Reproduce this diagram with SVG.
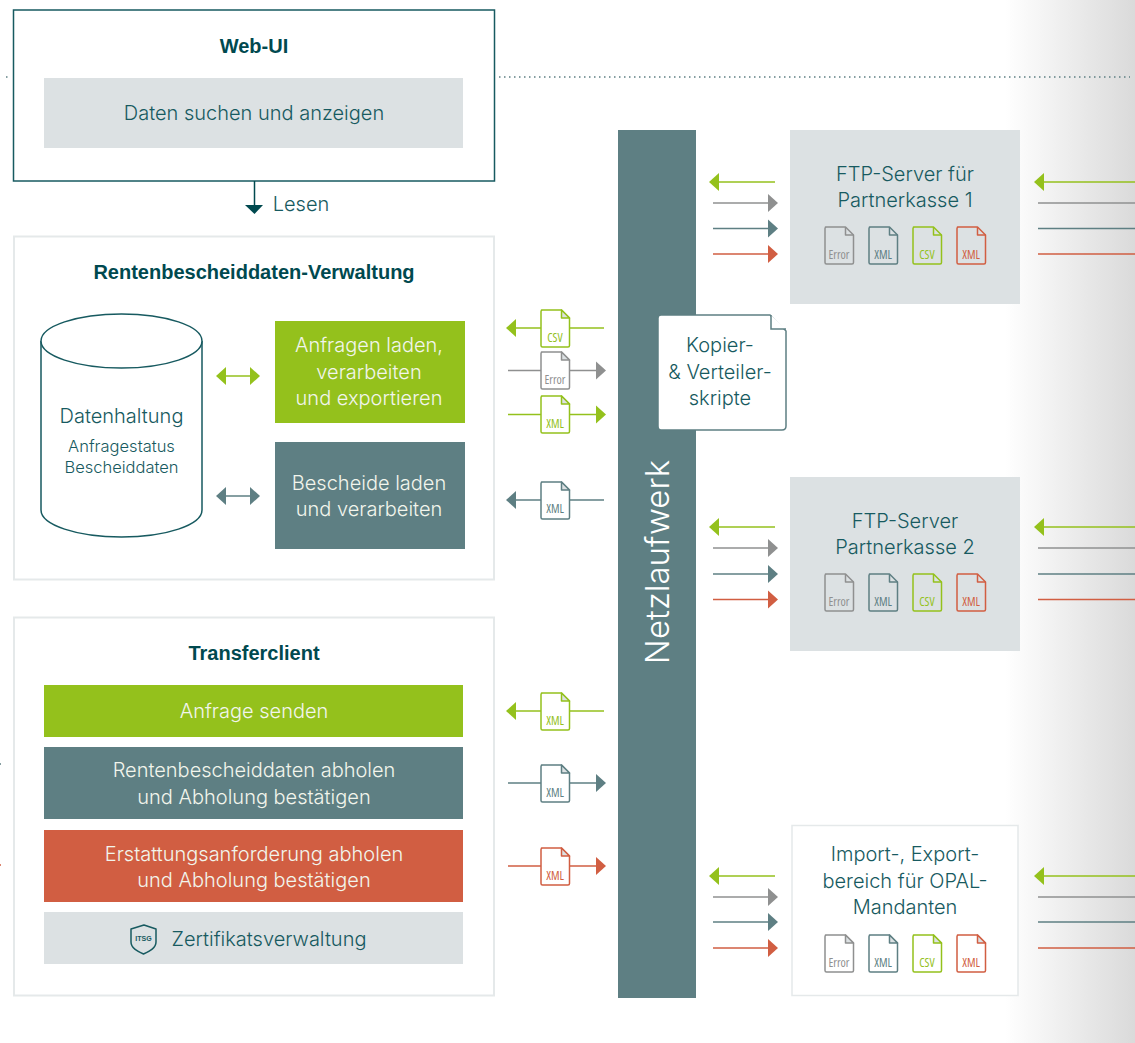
<svg xmlns="http://www.w3.org/2000/svg" xmlns:xlink="http://www.w3.org/1999/xlink" width="1135" height="1043" viewBox="0 0 1135 1043">
<style>
text{font-family:"Inter","Liberation Sans",sans-serif;font-weight:300;text-anchor:middle}
.t{font-size:20px;fill:#175a60}
.h{font-size:20px;font-weight:700;fill:#00494f;font-family:"Liberation Sans",sans-serif}
.w{font-size:20px;fill:#f2f5ec}
.d{font-size:12px;font-family:"Open Sans","Liberation Sans",sans-serif;font-stretch:condensed;font-weight:400}
.g{stroke:#94c11c;fill:#94c11c;color:#94c11c}
.e{stroke:#8f9090;fill:#8f9090;color:#8f9090}
.s{stroke:#5e7f83;fill:#5e7f83;color:#5e7f83}
.r{stroke:#d15e42;fill:#d15e42;color:#d15e42}
text.g,text.e,text.s,text.r{stroke:none}
.ln{stroke-width:1.5;fill:none}
.ah{stroke:none}
.docb{fill:#fff;stroke:currentColor;stroke-width:1.5;stroke-linejoin:round}
.docn{fill:none;stroke:currentColor;stroke-width:1.5;stroke-linejoin:round}
.grey{fill:#dce1e3}
.box{fill:#fff;stroke:#e5e9ea;stroke-width:2}
</style>
<defs>
<linearGradient id="fade" x1="0" x2="1" y1="0" y2="0"><stop offset="0" stop-color="#fff"/><stop offset="1" stop-color="#dadada"/></linearGradient>
<g id="doc"><path class="docb" d="M1.5 1H21.5L29.5 9V36.5Q29.5 38 28 38H2.5Q1 38 1 36.5V2.5Q1 1 2.5 1Z"/><path class="docb" style="fill:#dce1e3" d="M21.5 1V9H29.5Z"/></g>
<g id="docg"><path class="docb" style="fill:none" d="M1.5 1H21.5L29.5 9V36.5Q29.5 38 28 38H2.5Q1 38 1 36.5V2.5Q1 1 2.5 1Z"/><path class="docn" d="M21.5 1V9H29.5"/></g>
<polygon id="al" class="ah" points="0,0 10,-9 10,9"/>
<polygon id="ar" class="ah" points="0,0 -10,-9 -10,9"/>
</defs>
<rect width="1135" height="1043" fill="#fff"/>
<rect id="fade-band" x="1005" y="0" width="130" height="1043" fill="url(#fade)"/>
<g id="background-marks">
<line x1="6" y1="77" x2="9" y2="77" stroke="#5e7f83" stroke-width="1.5" stroke-dasharray="1.5 3.5"/>
<line x1="499" y1="77" x2="1130" y2="77" stroke="#5e7f83" stroke-width="1.5" stroke-dasharray="1.5 3.5"/>
<line x1="0" y1="764" x2="1" y2="764" stroke="#5e7f83" stroke-width="1.5"/>
<line x1="0" y1="865" x2="1" y2="865" stroke="#d15e42" stroke-width="1.5"/>
</g>

<g id="web-ui">
<rect x="13.5" y="10" width="481" height="171" fill="#fff" stroke="#175a60" stroke-width="1.5"/>
<text class="h" x="254" y="53">Web-UI</text>
<rect class="grey" x="44" y="78" width="419" height="70"/>
<text class="t" x="254" y="120">Daten suchen und anzeigen</text>
</g>

<g id="verwaltung">
<rect class="box" x="14" y="236.500" width="480" height="343"/>
<text class="h" x="254" y="279">Rentenbescheiddaten-Verwaltung</text>
</g>
<g id="datenhaltung">
<path d="M41 341V510C41 525 77 537 121.500 537S202 525 202 510V341" fill="#fff" stroke="#175a60" stroke-width="1.5"/>
<ellipse cx="121.500" cy="341" rx="80.500" ry="27" fill="#fff" stroke="#175a60" stroke-width="1.500"/>
<text class="t" x="121.500" y="423">Datenhaltung</text>
<text class="t" style="font-size:16.500px" x="121.500" y="452">Anfragestatus</text>
<text class="t" style="font-size:16.500px" x="121.500" y="473">Bescheiddaten</text>
</g>
<g id="anfragen-laden">
<rect x="275" y="321" width="190" height="102" fill="#94c11c"/>
<text class="w" x="369" y="352">Anfragen laden,</text>
<text class="w" x="369" y="379">verarbeiten</text>
<text class="w" x="369" y="405">und exportieren</text>
</g>
<g id="bescheide-laden">
<rect x="275" y="442" width="190" height="107" fill="#5e7f83"/>
<text class="w" x="369" y="490">Bescheide laden</text>
<text class="w" x="369" y="516">und verarbeiten</text>
</g>

<g id="transferclient">
<rect class="box" x="14" y="617.500" width="480" height="378"/>
<text class="h" x="254" y="660">Transferclient</text>
</g>
<g id="anfrage-senden">
<rect x="44" y="685" width="419" height="52" fill="#94c11c"/>
<text class="w" x="254" y="718">Anfrage senden</text>
</g>
<g id="rentenbescheiddaten-abholen">
<rect x="44" y="747" width="419" height="72" fill="#5e7f83"/>
<text class="w" x="254" y="777">Rentenbescheiddaten abholen</text>
<text class="w" x="254" y="804">und Abholung bestätigen</text>
</g>
<g id="erstattung-abholen">
<rect x="44" y="830" width="419" height="72" fill="#d15e42"/>
<text class="w" x="254" y="861">Erstattungsanforderung abholen</text>
<text class="w" x="254" y="887">und Abholung bestätigen</text>
</g>
<g id="zertifikatsverwaltung">
<rect class="grey" x="44" y="912" width="419" height="52"/>
<path d="M144 925L156 929V942C156 948 150 951 143.500 954C137 951 131 948 131 942V929Z" fill="none" stroke="#175a60" stroke-width="1.500" stroke-linejoin="round"/>
<text x="143.500" y="941" style="font-size:7px;font-weight:700;fill:#175a60;font-family:'Liberation Sans',sans-serif">ITSG</text>
<text class="t" x="269" y="946">Zertifikatsverwaltung</text>
</g>

<g id="netzlaufwerk">
<rect x="618" y="130" width="78" height="868" fill="#5e7f83"/>
<text transform="translate(669 562) rotate(-90)" style="font-size:33px;fill:#fff;font-weight:300">Netzlaufwerk</text>
</g>
<g id="skripte">
<path d="M661 315H770L786 331V426Q786 430 782 430H661Q658 430 658 426V318Q658 315 661 315Z" fill="#fff" stroke="#5e7f83" stroke-width="1.500"/>
<path d="M771 315V329H786" fill="#fff" stroke="#5e7f83" stroke-width="1.500"/>
<text class="t" x="720" y="352">Kopier-</text>
<text class="t" x="720" y="379">&amp; Verteiler-</text>
<text class="t" x="720" y="405">skripte</text>
</g>

<g id="ftp-1">
<rect class="grey" x="790" y="130" width="230" height="174"/>
<text class="t" x="905" y="181">FTP-Server für</text>
<text class="t" x="905" y="207">Partnerkasse 1</text>
<g class="e" color="#8f9090"><use href="#docg" x="824" y="226"/></g>
<g class="s" color="#5e7f83"><use href="#docg" x="868" y="226"/></g>
<g class="g" color="#94c11c"><use href="#docg" x="912" y="226"/></g>
<g class="r" color="#d15e42"><use href="#docg" x="956" y="226"/></g>
<text class="d e" x="839" y="259">Error</text><text class="d s" x="883" y="259">XML</text><text class="d g" x="927" y="259">CSV</text><text class="d r" x="971" y="259">XML</text>
</g>
<g id="ftp-2">
<rect class="grey" x="790" y="477" width="230" height="174"/>
<text class="t" x="905" y="528">FTP-Server</text>
<text class="t" x="905" y="554">Partnerkasse 2</text>
<g class="e" color="#8f9090"><use href="#docg" x="824" y="573"/></g>
<g class="s" color="#5e7f83"><use href="#docg" x="868" y="573"/></g>
<g class="g" color="#94c11c"><use href="#docg" x="912" y="573"/></g>
<g class="r" color="#d15e42"><use href="#docg" x="956" y="573"/></g>
<text class="d e" x="839" y="606">Error</text><text class="d s" x="883" y="606">XML</text><text class="d g" x="927" y="606">CSV</text><text class="d r" x="971" y="606">XML</text>
</g>
<g id="opal">
<rect class="box" x="792" y="825.500" width="226" height="170" style="stroke-width:1.500"/>
<text class="t" x="905" y="861">Import-, Export-</text>
<text class="t" x="905" y="888">bereich für OPAL-</text>
<text class="t" x="905" y="914">Mandanten</text>
<g class="e" color="#8f9090"><use href="#doc" x="824" y="934"/></g>
<g class="s" color="#5e7f83"><use href="#doc" x="868" y="934"/></g>
<g class="g" color="#94c11c"><use href="#doc" x="912" y="934"/></g>
<g class="r" color="#d15e42"><use href="#doc" x="956" y="934"/></g>
<text class="d e" x="839" y="967">Error</text><text class="d s" x="883" y="967">XML</text><text class="d g" x="927" y="967">CSV</text><text class="d r" x="971" y="967">XML</text>
</g>

<g id="connectors">
<line x1="254.500" y1="181" x2="254.500" y2="205" stroke="#00494f" stroke-width="1.500"/>
<polygon points="245,205 263,205 254.500,214" fill="#00494f"/>
<text class="t" x="301" y="211">Lesen</text>
<!-- internal double arrows -->
<g class="g"><line class="ln" x1="226" y1="376" x2="250" y2="376"/><use href="#al" x="216" y="376"/><use href="#ar" x="260" y="376"/></g>
<g class="s"><line class="ln" x1="226" y1="496" x2="250" y2="496"/><use href="#al" x="216" y="496"/><use href="#ar" x="260" y="496"/></g>
<!-- left file arrows -->
<g class="g"><line class="ln" x1="516" y1="328" x2="604" y2="328"/><use href="#al" x="506" y="328"/></g>
<g class="e"><line class="ln" x1="508" y1="370.500" x2="596" y2="370.500"/><use href="#ar" x="606" y="370.500"/></g>
<g class="g"><line class="ln" x1="508" y1="414.500" x2="596" y2="414.500"/><use href="#ar" x="606" y="414.500"/></g>
<g class="s"><line class="ln" x1="516" y1="500" x2="604" y2="500"/><use href="#al" x="506" y="500"/></g>
<g class="g"><line class="ln" x1="516" y1="711" x2="604" y2="711"/><use href="#al" x="506" y="711"/></g>
<g class="s"><line class="ln" x1="508" y1="783" x2="596" y2="783"/><use href="#ar" x="606" y="783"/></g>
<g class="r"><line class="ln" x1="508" y1="866" x2="596" y2="866"/><use href="#ar" x="606" y="866"/></g>
<!-- file labels on arrows -->
<g color="#94c11c"><use href="#doc" x="540" y="309"/></g><text class="d g" x="555" y="342">CSV</text>
<g color="#8f9090"><use href="#doc" x="540" y="351"/></g><text class="d e" x="555" y="384">Error</text>
<g color="#94c11c"><use href="#doc" x="540" y="395"/></g><text class="d g" x="555" y="428">XML</text>
<g color="#5e7f83"><use href="#doc" x="540" y="481"/></g><text class="d s" x="555" y="513">XML</text>
<g color="#94c11c"><use href="#doc" x="540" y="692"/></g><text class="d g" x="555" y="725">XML</text>
<g color="#5e7f83"><use href="#doc" x="540" y="764"/></g><text class="d s" x="555" y="797">XML</text>
<g color="#d15e42"><use href="#doc" x="540" y="847"/></g><text class="d r" x="555" y="880">XML</text>
<!-- right of network, per server -->
<g class="g"><line class="ln" x1="719" y1="182" x2="775" y2="182"/><use href="#al" x="709" y="182"/></g>
<g class="e"><line class="ln" x1="713" y1="203" x2="768" y2="203"/><use href="#ar" x="778" y="203"/></g>
<g class="s"><line class="ln" x1="713" y1="228.500" x2="768" y2="228.500"/><use href="#ar" x="778" y="228.500"/></g>
<g class="r"><line class="ln" x1="713" y1="254" x2="768" y2="254"/><use href="#ar" x="778" y="254"/></g>
<g class="g"><line class="ln" x1="719" y1="527" x2="775" y2="527"/><use href="#al" x="709" y="527"/></g>
<g class="e"><line class="ln" x1="713" y1="548" x2="768" y2="548"/><use href="#ar" x="778" y="548"/></g>
<g class="s"><line class="ln" x1="713" y1="574" x2="768" y2="574"/><use href="#ar" x="778" y="574"/></g>
<g class="r"><line class="ln" x1="713" y1="599.500" x2="768" y2="599.500"/><use href="#ar" x="778" y="599.500"/></g>
<g class="g"><line class="ln" x1="719" y1="876" x2="775" y2="876"/><use href="#al" x="709" y="876"/></g>
<g class="e"><line class="ln" x1="713" y1="897" x2="768" y2="897"/><use href="#ar" x="778" y="897"/></g>
<g class="s"><line class="ln" x1="713" y1="922" x2="768" y2="922"/><use href="#ar" x="778" y="922"/></g>
<g class="r"><line class="ln" x1="713" y1="948" x2="768" y2="948"/><use href="#ar" x="778" y="948"/></g>
<!-- far right -->
<g class="g"><line class="ln" x1="1044" y1="182" x2="1135" y2="182"/><use href="#al" x="1034" y="182"/></g>
<line class="ln e" x1="1038" y1="203" x2="1135" y2="203"/><line class="ln s" x1="1038" y1="228.500" x2="1135" y2="228.500"/><line class="ln r" x1="1038" y1="254" x2="1135" y2="254"/>
<g class="g"><line class="ln" x1="1044" y1="527" x2="1135" y2="527"/><use href="#al" x="1034" y="527"/></g>
<line class="ln e" x1="1038" y1="548" x2="1135" y2="548"/><line class="ln s" x1="1038" y1="574" x2="1135" y2="574"/><line class="ln r" x1="1038" y1="599.500" x2="1135" y2="599.500"/>
<g class="g"><line class="ln" x1="1044" y1="876" x2="1135" y2="876"/><use href="#al" x="1034" y="876"/></g>
<line class="ln e" x1="1038" y1="897" x2="1135" y2="897"/><line class="ln s" x1="1038" y1="922" x2="1135" y2="922"/><line class="ln r" x1="1038" y1="948" x2="1135" y2="948"/>
</g>
</svg>
